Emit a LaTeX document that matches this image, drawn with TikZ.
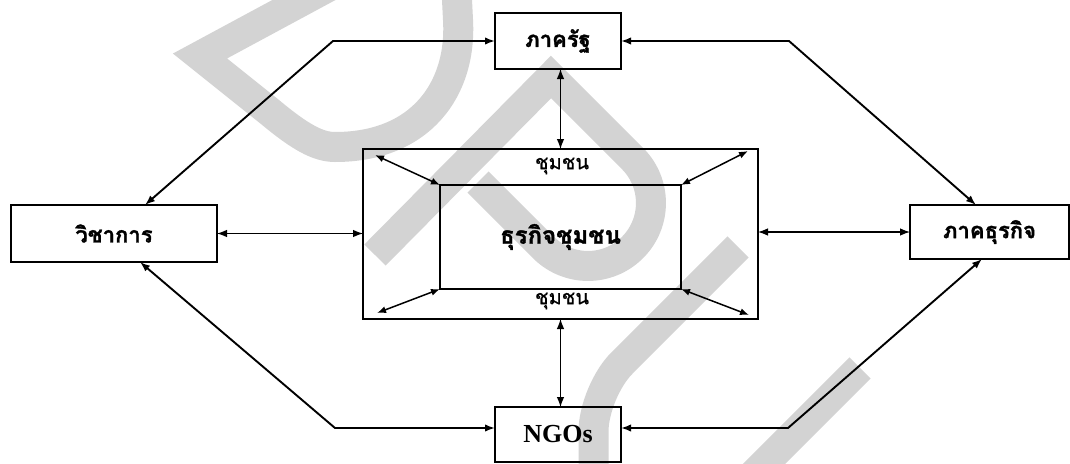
\documentclass[tikz,border=0pt]{standalone}
\usepackage{fontspec}
\setmainfont{Liberation Serif}
\newfontfamily\thai[Script=Thai,FakeBold=0.6]{Loma}
\newfontfamily\thaib[Script=Thai,FakeBold=1.4]{Loma}
\usetikzlibrary{arrows.meta,calc}
\definecolor{wmgray}{RGB}{211,211,211}
\begin{document}
\begin{tikzpicture}[x=1pt,y=-1pt,
  box/.style={draw, line width=2.1pt, inner sep=0pt, outer sep=0pt},
  wm/.style={draw=wmgray, line width=30pt, line cap=butt, line join=miter},
  conn/.style={line width=1.9pt, {Latex[length=10pt,width=7.5pt]}-{Latex[length=10pt,width=7.5pt]}},
  thinconn/.style={line width=1.1pt, {Latex[length=10pt,width=7.5pt]}-{Latex[length=10pt,width=7.5pt]}},
  cconn/.style={line width=1.5pt, {Latex[length=9pt,width=7pt]}-{Latex[length=9pt,width=7pt]}},
  boxlabel/.style={font=\thaib\bfseries\fontsize{22}{26}\selectfont},
  sublabel/.style={font=\thai\fontsize{20}{24}\selectfont, inner sep=0pt}]
\useasboundingbox (0,0) rectangle (1070,463);
% watermark
\draw[wm] (341,-20) -- (200,56) -- (270,112) .. controls (300,137) and (318,147) .. (335,147) .. controls (420,147) and (462,90) .. (458,20) -- (456,-20);
\draw[wm] (375,255) -- (551,77) -- (632.5,158.5) .. controls (657.1,183.1) and (657.1,222.9) .. (632.5,247.5) .. controls (607.9,272.1) and (568.1,272.1) .. (543.5,247.5) -- (478,182);
\draw[wm, rounded corners=40pt] (738,247) -- (593.5,391.5) -- (593.5,480);
\draw[wm] (860,368) -- (740,488);
% nodes
\node[box, minimum width=126pt, minimum height=56pt, boxlabel] (rat) at (558,41) {ภาครัฐ};
\node[box, minimum width=206pt, minimum height=57pt, boxlabel] (vicha) at (114,233.5) {วิชาการ};
\node[box, minimum width=159pt, minimum height=54pt, boxlabel] (biz) at (989.5,232) {ภาคธุรกิจ};
\node[box, minimum width=126pt, minimum height=55pt, font=\bfseries\fontsize{26}{30}\selectfont] (ngo) at (558,434.5) {NGOs};
\node[box, minimum width=395pt, minimum height=170pt] (outer) at (560.5,234) {};
\node[box, minimum width=241pt, minimum height=104pt, font=\thaib\bfseries\fontsize{24}{28}\selectfont] (inner) at (560.5,237) {ธุรกิจชุมชน};
\node[sublabel] (c1) at (562,166) {ชุมชน};
\node[sublabel] (c2) at (562,301) {ชุมชน};
% connectors
\coordinate (b1) at (333,41);
\coordinate (b2) at (789,41);
\coordinate (b3) at (335,428);
\coordinate (b4) at (788,428);
\draw[conn] (rat.west) -- (b1) -- ($(vicha.north west)+(134,0)$);
\draw[conn] (rat.east) -- (b2) -- ($(biz.north west)+(66,0)$);
\draw[conn] (b3 -| ngo.west) -- (b3) -- ($(vicha.south west)+(129,0)$);
\draw[conn] (b4 -| ngo.east) -- (b4) -- ($(biz.south west)+(72,0)$);
\draw[thinconn] (outer.north |- rat.south) -- (outer.north);
\draw[thinconn] (outer.south) -- (outer.south |- ngo.north);
\draw[thinconn] (vicha.east) -- (outer.west |- vicha.east);
\draw[thinconn] (outer.east |- biz.west) -- (biz.west);
\draw[cconn] ($(outer.north west)+(12,6)$) -- (inner.north west);
\draw[cconn] ($(outer.north east)+(-10,2)$) -- (inner.north east);
\draw[cconn] ($(outer.south west)+(14,-6)$) -- (inner.south west);
\draw[cconn] ($(outer.south east)+(-9,-4)$) -- (inner.south east);
\end{tikzpicture}
\end{document}
